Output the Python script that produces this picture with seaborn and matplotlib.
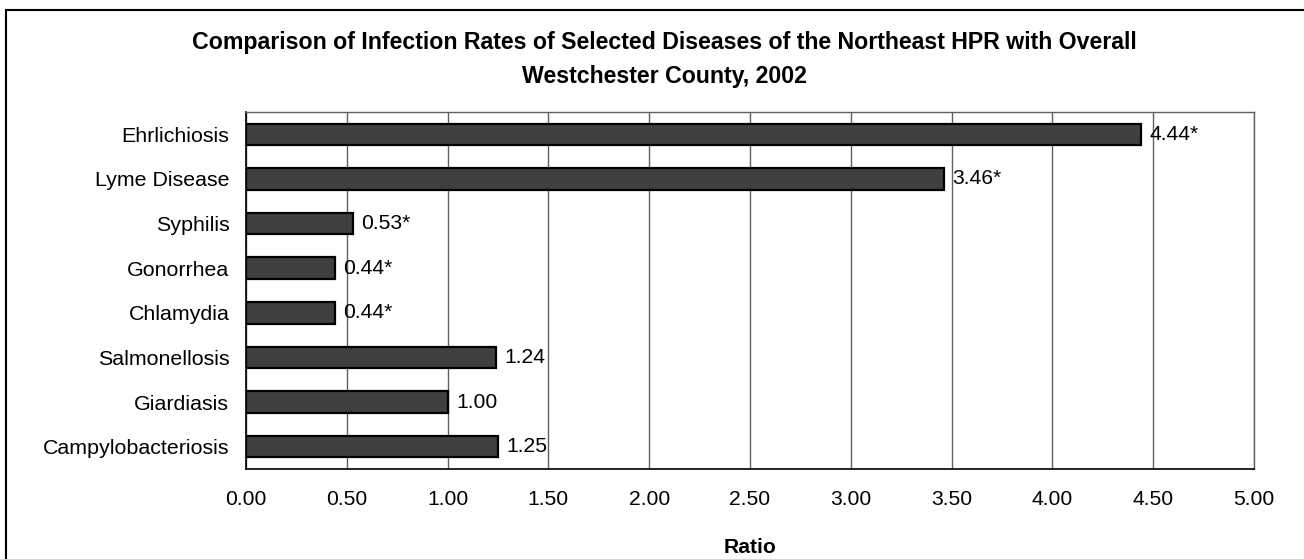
import numpy as np
import pandas as pd
import seaborn as sns
import matplotlib.pyplot as plt
from matplotlib.patches import Rectangle

diseases = ['Ehrlichiosis', 'Lyme Disease', 'Syphilis', 'Gonorrhea', 'Chlamydia',
            'Salmonellosis', 'Giardiasis', 'Campylobacteriosis']
ratios = [4.44, 3.46, 0.53, 0.44, 0.44, 1.24, 1.00, 1.25]
labels = ['4.44*', '3.46*', '0.53*', '0.44*', '0.44*', '1.24', '1.00', '1.25']
xticks = [0.0, 0.5, 1.0, 1.5, 2.0, 2.5, 3.0, 3.5, 4.0, 4.5, 5.0]

df = pd.DataFrame({'disease': diseases, 'ratio': ratios})

sns.set_style('white')
plt.rcParams['font.family'] = ['Liberation Sans', 'DejaVu Sans']
plt.rcParams['text.color'] = 'black'
plt.rcParams['xtick.color'] = 'black'
plt.rcParams['ytick.color'] = 'black'
plt.rcParams['axes.labelcolor'] = 'black'

fig = plt.figure(figsize=(13.04, 5.59), dpi=100)
ax = fig.add_axes([246 / 1304, 1 - 469 / 559, 1008 / 1304, 357 / 559])

sns.barplot(data=df, x='ratio', y='disease', color='#404040', orient='h',
            width=0.48, edgecolor='black', linewidth=1.6, saturation=1, ax=ax, zorder=3)

for bar, txt in zip(ax.patches, labels):
    ax.annotate(txt, (bar.get_width(), bar.get_y() + bar.get_height() / 2),
                xytext=(6, 0), textcoords='offset points', va='center', ha='left',
                fontsize=15.2, color='black')

ax.set_xlim(0, 5)
ax.set_ylim(len(diseases) - 0.5, -0.5)
ax.set_xticks(xticks)
ax.set_xticklabels([f'{t:.2f}' for t in xticks], fontsize=15.2)
ax.tick_params(axis='x', direction='out', length=6, width=1, color='#404040', pad=9)
ax.tick_params(axis='y', which='major', length=0, pad=12, labelsize=15.4)
ax.set_yticks(np.arange(len(diseases) + 1) - 0.5, minor=True)
ax.tick_params(axis='y', which='minor', direction='out', length=6, width=1, color='#404040')

ax.grid(axis='x', color='#606060', linewidth=1, zorder=0)
ax.grid(axis='y', visible=False)
for side in ['top', 'right']:
    ax.spines[side].set_color('#606060')
    ax.spines[side].set_linewidth(1)
for side in ['left', 'bottom']:
    ax.spines[side].set_color('black')
    ax.spines[side].set_linewidth(1.2)

ax.set_xlabel('Ratio', fontsize=15.2, fontweight='bold', labelpad=21)
ax.set_ylabel('')

fig.text(664 / 1304, 1 - 43 / 559,
         'Comparison of Infection Rates of Selected Diseases of the Northeast HPR with Overall',
         ha='center', va='center', fontsize=16.7, fontweight='bold')
fig.text(664 / 1304, 1 - 76 / 559, 'Westchester County, 2002',
         ha='center', va='center', fontsize=16.7, fontweight='bold')

fig.patches.append(Rectangle((6 / 1304, -0.1), 1.2, 1 - 10 / 559 + 0.1,
                             transform=fig.transFigure, fill=False,
                             edgecolor='black', linewidth=1.5))

fig.savefig('out.png', dpi=100)
